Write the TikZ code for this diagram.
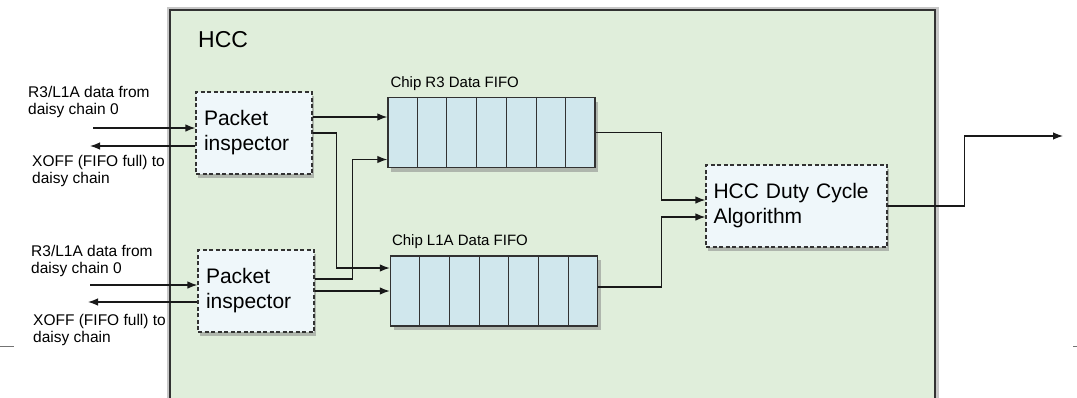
\documentclass[tikz,border=0pt]{standalone}
\usepackage{fontspec}
\setmainfont{Liberation Sans}
\usetikzlibrary{arrows.meta,calc,positioning,shadows}
\definecolor{hccgreen}{RGB}{224,238,219}
\definecolor{boxblue}{RGB}{239,247,250}
\definecolor{fifoblue}{RGB}{208,231,237}
\definecolor{edgegray}{RGB}{50,50,50}
\definecolor{wire}{RGB}{25,25,25}
% vertical separators of a fifo node, 7 slots
\newcommand{\fifocells}[1]{
    \foreach \k in {1,...,6}{
      \draw[cellline] ($(#1.north west)!\k/7!(#1.north east)$)--($(#1.south west)!\k/7!(#1.south east)$);
    }
}
\tikzset{
  hccbox/.style={fill=hccgreen, draw=edgegray, line width=1.4pt, preaction={draw=black!22, line width=7pt}},
  inspector/.style={draw=edgegray, dash pattern=on 4pt off 2.5pt, line width=1.2pt, fill=boxblue,
    minimum width=116pt, minimum height=82pt, text width=100pt, inner sep=8pt, align=left,
    font=\fontsize{21}{25}\selectfont, drop shadow={opacity=0.5, shadow xshift=2pt, shadow yshift=-3.5pt}},
  fifo/.style={draw=edgegray, line width=1.4pt, fill=fifoblue, minimum width=207pt, minimum height=70pt,
    drop shadow={opacity=0.5, shadow xshift=3pt, shadow yshift=-4pt}},
  cellline/.style={draw=edgegray, line width=1.1pt},
  fifotitle/.style={inner sep=0pt, font=\fontsize{15}{17}\selectfont},
  sidenote/.style={inner sep=0pt, align=left, anchor=west, font=\fontsize{15.5}{17}\selectfont},
  flow/.style={draw=wire, line width=1.25pt, -{Latex[length=10pt,width=7.5pt]}},
  edgemark/.style={draw=black!55, line width=1pt}
}
\begin{document}
\begin{tikzpicture}[x=1pt,y=-1pt]
\useasboundingbox (0,0) rectangle (1077,397);
\clip (0,0) rectangle (1077,397);
% the HCC chip
\draw[hccbox] (170,10) rectangle (935,430);
\node[inner sep=0pt, anchor=west, font=\fontsize{23}{26}\selectfont] (hcc) at (198,40) {HCC};

% blocks
\node[inspector] (p1) at (254,133) {Packet\\inspector};
\node[inspector] (p2) at (256,291) {Packet\\inspector};
\node[fifo] (r3) at (491.5,132.5) {};
\node[fifo] (l1a) at (494,291) {};
\fifocells{r3}
\fifocells{l1a}
\node[fifotitle, above right=6pt and 3pt of r3.north west] (r3title) {Chip R3 Data FIFO};
\node[fifotitle, above right=6pt and 2pt of l1a.north west] (l1atitle) {Chip L1A Data FIFO};
\node[inspector, minimum width=181pt, text width=166pt, inner sep=7pt] (duty) at (796.5,206) {HCC Duty Cycle\\Algorithm};

% daisy chain side
\coordinate (in1) at (93,128);
\coordinate (xoff1) at (90,146);
\coordinate (in2) at (90,285);
\coordinate (xoff2) at (88,302);
\draw[flow] (in1) -- (in1 -| p1.west);
\draw[flow] (xoff1 -| p1.west) -- (xoff1);
\draw[flow] (in2) -- (in2 -| p2.west);
\draw[flow] (xoff2 -| p2.west) -- (xoff2);
\node[sidenote] (n1) at (28,102) {R3/L1A data from\\daisy chain 0};
\node[sidenote] (x1) at (32,171) {XOFF (FIFO full) to\\daisy chain};
\node[sidenote] (n2) at (31,261) {R3/L1A data from\\daisy chain 0};
\node[sidenote] (x2) at (33,330) {XOFF (FIFO full) to\\daisy chain};

% inspectors to fifos
\draw[flow] ([yshift=16pt]p1.east) -- ([yshift=16pt]p1.east -| r3.west);
\draw[flow] (p1.east) -| ([xshift=-53pt,yshift=23pt]l1a.west) -- ([yshift=23pt]l1a.west);
\draw[flow] ([yshift=12pt]p2.east) -| ([xshift=-35pt,yshift=-27pt]r3.west) -- ([yshift=-27pt]r3.west);
\draw[flow] (p2.east) -- (p2.east -| l1a.west);

% fifos to duty cycle
\draw[flow] (r3.east) -| ([xshift=-44pt,yshift=6pt]duty.west) -- ([yshift=6pt]duty.west);
\draw[flow] ([yshift=4pt]l1a.east) -| ([xshift=-44pt,yshift=-11pt]duty.west) -- ([yshift=-11pt]duty.west);
\coordinate (out) at (1063,136);
\draw[flow] (duty.east) -- ++(77,0) |- (out);

\draw[edgemark] (0,346) -- (14,346);
\draw[edgemark] (1073,346) -- (1077,346);
\end{tikzpicture}
\end{document}
